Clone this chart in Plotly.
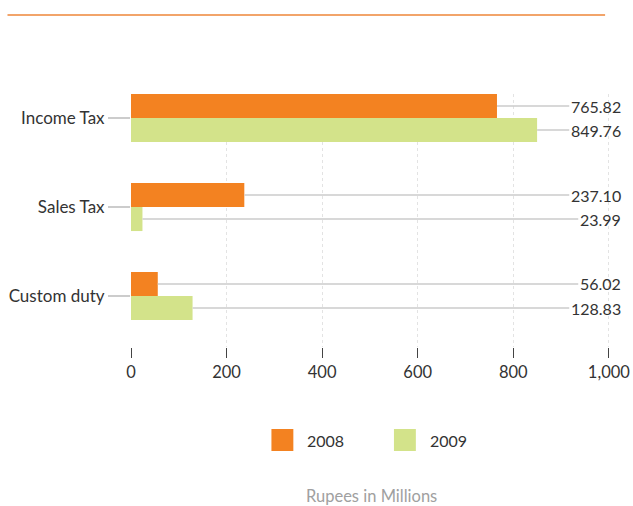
import plotly.graph_objects as go

# Tax collection by head, two fiscal years
categories = ["Income Tax", "Sales Tax", "Custom duty"]
years = ["2008", "2009"]
values_2008 = [765.82, 237.10, 56.02]
values_2009 = [849.76, 23.99, 128.83]
x_ticks = [0, 200, 400, 600, 800, 1000]
x_tick_labels = ["0", "200", "400", "600", "800", "1,000"]

colors = ["#F38221", "#D3E38A"]
series = [values_2008, values_2009]

W, H = 633, 506
L, R, T, B = 131, 3, 94, 159
X_MAX = 1040
Y_TOP, Y_BOT = -0.27, 2.573
BAR_SHIFT = 0.135

FONT = "Lato"
TEXT = "#333333"

fig = go.Figure()
positions = list(range(len(categories)))
for name, vals, col in zip(years, series, colors):
    fig.add_trace(go.Bar(
        y=positions, x=vals, name=name, orientation="h",
        marker=dict(color=col, line=dict(width=0)),
        showlegend=False,
    ))

# value labels with grey leader lines from the bar end
for k, vals in enumerate(series):
    off = -BAR_SHIFT if k == 0 else BAR_SHIFT
    for i, v in enumerate(vals):
        fig.add_annotation(
            x=v, y=i + off, xref="x", yref="y",
            ax=1029, ay=i + off, axref="x", ayref="y",
            text=f"{v:.2f}", xanchor="right", yanchor="middle",
            showarrow=True, arrowhead=0, arrowwidth=1.5,
            arrowcolor="#CCCCCC", standoff=0, startstandoff=0,
            borderpad=1,
            font=dict(family=FONT, size=16, color=TEXT),
        )


def px_x(px):
    return (px - L) / (W - L - R)


def px_y(py):
    return (H - B - py) / (H - T - B)


# legend: swatches and year labels
legend_x = [272, 395]
for name, col, lx in zip(years, colors, legend_x):
    fig.add_shape(type="rect", xref="paper", yref="paper",
                  x0=px_x(lx), x1=px_x(lx + 22), y0=px_y(451), y1=px_y(429),
                  fillcolor=col, line=dict(width=0))
    fig.add_annotation(xref="paper", yref="paper", x=px_x(lx + 34), y=px_y(440),
                       text=name, showarrow=False, xanchor="left", yanchor="middle",
                       font=dict(family=FONT, size=16, color=TEXT))

# axis caption below the legend
fig.add_annotation(xref="paper", yref="paper", x=px_x(372), y=px_y(496),
                   text="Rupees in Millions", showarrow=False,
                   xanchor="center", yanchor="middle",
                   font=dict(family=FONT, size=16.5, color="#A0A0A0"))

# orange rule across the top
fig.add_shape(type="line", xref="paper", yref="paper",
              x0=px_x(7), x1=px_x(607), y0=px_y(15), y1=px_y(15),
              line=dict(color="#F2A46A", width=2))

fig.update_layout(
    width=W, height=H,
    margin=dict(l=L, r=R, t=T, b=B, pad=0),
    paper_bgcolor="white", plot_bgcolor="white",
    barmode="group", bargap=0.46, bargroupgap=0,
    font=dict(family=FONT, size=16, color=TEXT),
    xaxis=dict(
        range=[0, X_MAX], tickvals=x_ticks, ticktext=x_tick_labels,
        showgrid=True, gridcolor="#E3E3E3", griddash="3px,3px", gridwidth=1,
        zeroline=False, showline=False,
        ticks="outside", ticklen=10, tickcolor="#444444", tickwidth=1,
        tickfont=dict(family=FONT, size=16.5, color=TEXT),
    ),
    yaxis=dict(
        range=[Y_BOT, Y_TOP], tickvals=positions, ticktext=categories,
        showgrid=False, zeroline=False, showline=False,
        ticks="outside", ticklen=22, tickcolor="#CCCCCC", tickwidth=1.5,
        tickfont=dict(family=FONT, size=17, color=TEXT),
    ),
)

fig.write_html("out.html")
